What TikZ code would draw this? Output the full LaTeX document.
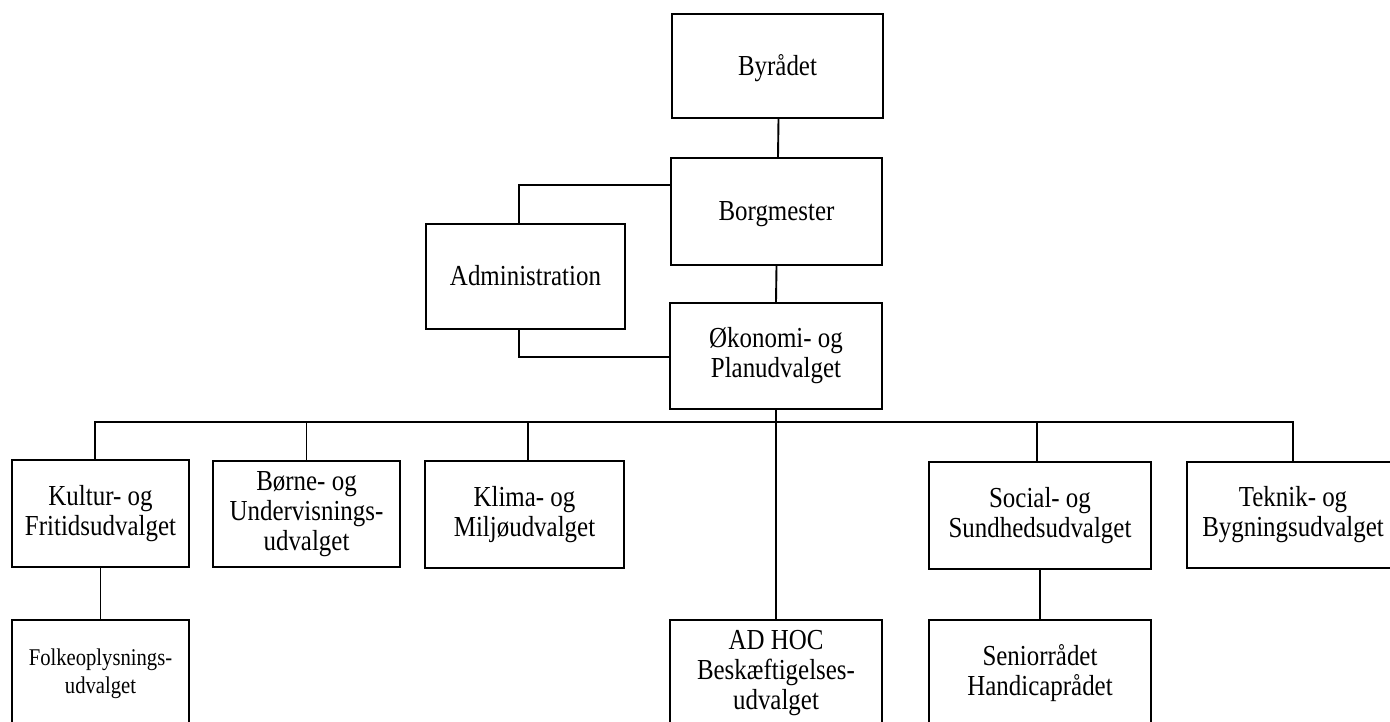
\documentclass[tikz,border=0pt]{standalone}
\usepackage{fontspec}
\setmainfont{Liberation Serif}[FakeStretch=0.86]
\begin{document}
\begin{tikzpicture}[x=1pt,y=1pt,
  box/.style={draw, line width=2.3pt, inner sep=0pt, align=center,
    font=\fontsize{29}{30}\selectfont},
  onebox/.style={box, text height=19pt, text depth=0pt},
  smallbox/.style={box, font=\fontsize{24}{28}\selectfont},
  conn/.style={line width=1.9pt}]
\useasboundingbox (0,0) rectangle (1390,-722);
\clip (0,0) rectangle (1390,-722);
\fill[white] (0,0) rectangle (1390,-722);
% top
\node[onebox, minimum width=211pt, minimum height=104pt] (byr) at (777.5,-66) {Byrådet};
\node[onebox, minimum width=211pt, minimum height=107pt] (borg) at (776.5,-211.5) {Borgmester};
\node[onebox, minimum width=199pt, minimum height=105pt] (adm) at (525.5,-276.5) {Administration};
\node[box, minimum width=212pt, minimum height=106pt] (oko) at (776,-356) {Økonomi- og\\Planudvalget};
% middle row
\node[box, minimum width=177pt, minimum height=107pt] (kul) at (100.5,-513.5) {Kultur- og\\Fritidsudvalget};
\node[box, minimum width=187pt, minimum height=106pt] (bor) at (306.5,-514) {Børne- og\\Undervisnings-\\udvalget};
\node[box, minimum width=199pt, minimum height=107pt] (kli) at (524.5,-514.5) {Klima- og\\Miljøudvalget};
\node[box, minimum width=222pt, minimum height=107pt] (soc) at (1040,-515.5) {Social- og\\Sundhedsudvalget};
\node[box, minimum width=212pt, minimum height=106pt] (tek) at (1293,-515) {Teknik- og\\Bygningsudvalget};
% bottom row
\node[smallbox, minimum width=177pt, minimum height=107pt] (fol) at (100.5,-673.5) {Folkeoplysnings-\\udvalget};
\node[box, minimum width=212pt, minimum height=107pt] (adh) at (776,-673.5) {AD HOC\\Beskæftigelses-\\udvalget};
\node[box, minimum width=222pt, minimum height=107pt] (sen) at (1040,-673.5) {Seniorrådet\\Handicaprådet};
% connectors
\coordinate (busy) at (0,-422);
\draw[conn] ([xshift=1pt]byr.south) -- ([xshift=1.5pt]borg.north);
\draw[conn] (borg.south) -- (oko.north);
\draw[conn] ([yshift=26.5pt]borg.west) -| ([xshift=-6.5pt]adm.north);
\draw[conn] ([xshift=-6.5pt]adm.south) |- ([yshift=-1pt]oko.west);
\draw[conn] ([xshift=-5.5pt]kul.north) |- (busy -| tek.north) -- (tek.north);
\draw[conn] (bor.north) -- (bor.north |- busy);
\draw[conn] ([xshift=3.5pt]kli.north) -- ([xshift=3.5pt]kli.north |- busy);
\draw[conn] ([xshift=-3pt]soc.north) -- ([xshift=-3pt]soc.north |- busy);
\draw[conn] (oko.south) -- (adh.north);
\draw[conn] (kul.south) -- (fol.north);
\draw[conn] (soc.south) -- (sen.north);
\end{tikzpicture}
\end{document}
